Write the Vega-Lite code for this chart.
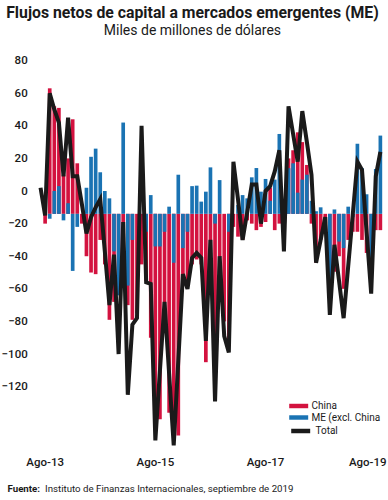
{
  "$schema": "https://vega.github.io/schema/vega-lite/v6.json",
  "autosize": {"type": "none"},
  "width": 343.5,
  "height": 388,
  "padding": {"left": 38.7, "top": 60.6, "right": 5.8, "bottom": 51.4},
  "background": "white",
  "config": {"view": {"stroke": null}},
  "title": {
    "text": "Flujos netos de capital a mercados emergentes (ME)",
    "subtitle": "Miles de millones de dólares",
    "anchor": "middle",
    "frame": "group",
    "dx": -18,
    "font": "Roboto",
    "fontSize": 15.8,
    "fontWeight": "bold",
    "color": "#1a1a1a",
    "subtitleFont": "Roboto",
    "subtitleFontSize": 14,
    "subtitleColor": "#1a1a1a",
    "subtitlePadding": 2,
    "offset": 16
  },
  "data": {
    "values": [
      {"mes": "2013-07", "china": -14, "me": -14, "total": 2},
      {"mes": "2013-08", "china": -20, "me": -14, "total": -15},
      {"mes": "2013-09", "china": 63, "me": -17, "total": 60},
      {"mes": "2013-10", "china": 52, "me": 0, "total": 50},
      {"mes": "2013-11", "china": 51, "me": 3, "total": 42},
      {"mes": "2013-12", "china": 10, "me": -18, "total": 9},
      {"mes": "2014-01", "china": 20, "me": -7.5, "total": 45},
      {"mes": "2014-02", "china": 44, "me": -49, "total": 9},
      {"mes": "2014-03", "china": 17, "me": -22, "total": 9},
      {"mes": "2014-04", "china": -20, "me": -14, "total": -8},
      {"mes": "2014-05", "china": -40, "me": 2, "total": -26},
      {"mes": "2014-06", "china": -50, "me": 21, "total": -16},
      {"mes": "2014-07", "china": -51, "me": 26, "total": -10},
      {"mes": "2014-08", "china": -30, "me": 11.5, "total": -5},
      {"mes": "2014-09", "china": -45, "me": 0, "total": -37},
      {"mes": "2014-10", "china": -79, "me": -4.5, "total": -70},
      {"mes": "2014-11", "china": -68, "me": -37, "total": -39},
      {"mes": "2014-12", "china": -60, "me": -64, "total": -100},
      {"mes": "2015-01", "china": -30, "me": 42, "total": -19},
      {"mes": "2015-02", "china": -70, "me": -58, "total": -125},
      {"mes": "2015-03", "china": -79, "me": -30, "total": -82},
      {"mes": "2015-04", "china": -75, "me": -14, "total": -78},
      {"mes": "2015-05", "china": -45, "me": -14, "total": 40},
      {"mes": "2015-06", "china": -55, "me": -25, "total": -56},
      {"mes": "2015-07", "china": -90, "me": -2.5, "total": -57},
      {"mes": "2015-08", "china": -136, "me": -34, "total": -153},
      {"mes": "2015-09", "china": -140, "me": -34, "total": -110},
      {"mes": "2015-10", "china": -75, "me": -25, "total": -68},
      {"mes": "2015-11", "china": -136, "me": -9.6, "total": -112},
      {"mes": "2015-12", "china": -148, "me": -44, "total": -156},
      {"mes": "2016-01", "china": -150, "me": 10, "total": -104},
      {"mes": "2016-02", "china": -55, "me": -35, "total": -51},
      {"mes": "2016-03", "china": -58, "me": -25, "total": -60},
      {"mes": "2016-04", "china": -45, "me": 3, "total": -41},
      {"mes": "2016-05", "china": -42, "me": 3.3, "total": -38},
      {"mes": "2016-06", "china": -45, "me": -6.5, "total": -41},
      {"mes": "2016-07", "china": -105, "me": -0.4, "total": -92},
      {"mes": "2016-08", "china": -40, "me": 14.5, "total": -30},
      {"mes": "2016-09", "china": -110, "me": -20, "total": -129},
      {"mes": "2016-10", "china": -50, "me": 6.7, "total": -40},
      {"mes": "2016-11", "china": -80, "me": -14, "total": -89},
      {"mes": "2016-12", "china": -95, "me": -25, "total": -99},
      {"mes": "2017-01", "china": -22, "me": -14, "total": 18},
      {"mes": "2017-02", "china": -28, "me": -8.6, "total": -5},
      {"mes": "2017-03", "china": -30, "me": -2.5, "total": -30},
      {"mes": "2017-04", "china": -18, "me": -4.5, "total": -13},
      {"mes": "2017-05", "china": -20, "me": 8.4, "total": 4},
      {"mes": "2017-06", "china": -24, "me": 14.1, "total": 4},
      {"mes": "2017-07", "china": -22, "me": -0.4, "total": -20},
      {"mes": "2017-08", "china": -19, "me": 7.4, "total": 0},
      {"mes": "2017-09", "china": 2, "me": -6, "total": 3},
      {"mes": "2017-10", "china": -24, "me": 7, "total": 12},
      {"mes": "2017-11", "china": -20, "me": 35, "total": 25},
      {"mes": "2017-12", "china": -30, "me": -12, "total": -37},
      {"mes": "2018-01", "china": 20, "me": 14, "total": 52},
      {"mes": "2018-02", "china": 25, "me": 17, "total": 35},
      {"mes": "2018-03", "china": 36, "me": -1, "total": 18},
      {"mes": "2018-04", "china": 30, "me": 7, "total": 49},
      {"mes": "2018-05", "china": 16, "me": 10, "total": 30},
      {"mes": "2018-06", "china": -20, "me": -6, "total": 10},
      {"mes": "2018-07", "china": -44, "me": -12.4, "total": -44},
      {"mes": "2018-08", "china": -30, "me": -10, "total": -30},
      {"mes": "2018-09", "china": -20, "me": -14, "total": -16},
      {"mes": "2018-10", "china": -60, "me": -70, "total": -76},
      {"mes": "2018-11", "china": -49.5, "me": -11.3, "total": -33},
      {"mes": "2018-12", "china": -40, "me": -31, "total": -55},
      {"mes": "2019-01", "china": -60, "me": -35, "total": -78},
      {"mes": "2019-02", "china": -30, "me": -9.6, "total": -46},
      {"mes": "2019-03", "china": -25, "me": -16, "total": -14},
      {"mes": "2019-04", "china": -25, "me": 29, "total": 18},
      {"mes": "2019-05", "china": -30, "me": 14, "total": 13},
      {"mes": "2019-06", "china": -38, "me": -2, "total": -25},
      {"mes": "2019-07", "china": -62, "me": -45, "total": -63},
      {"mes": "2019-08", "china": -24, "me": 13.5, "total": 9},
      {"mes": "2019-09", "china": -24, "me": 34, "total": 24}
    ]
  },
  "encoding": {
    "x": {
      "field": "mes",
      "type": "ordinal",
      "scale": {"paddingInner": 0.2, "paddingOuter": 0},
      "axis": {
        "values": ["2013-08", "2015-08", "2017-08", "2019-08"],
        "labelExpr": "'Ago-' + slice(datum.value, 2, 4)",
        "labelAngle": 0,
        "labelOverlap": false,
        "domain": false,
        "ticks": false,
        "tickSize": 0,
        "grid": false,
        "labelPadding": 8,
        "labelFont": "Roboto",
        "labelFontSize": 11.5,
        "labelFontWeight": 500,
        "labelColor": "#1a1a1a",
        "labelOffset": {"condition": {"test": "datum.value === '2019-08'", "value": -8}, "value": 0},
        "title": "Instituto de Finanzas Internacionales, septiembre de 2019",
        "titleX": 5.8,
        "titleY": 39.4,
        "titleAlign": "left",
        "titleAnchor": null,
        "titleBaseline": "middle",
        "titleFont": "Roboto",
        "titleFontSize": 9.7,
        "titleFontWeight": "normal",
        "titleColor": "#1a1a1a"
      }
    }
  },
  "layer": [
    {
      "mark": {"type": "bar"},
      "encoding": {
        "y": {
          "field": "china",
          "type": "quantitative",
          "title": "Fuente:",
          "scale": {"domain": [-158, 80], "nice": false, "zero": false},
          "axis": {
            "values": [80, 60, 40, 20, 0, -20, -40, -60, -80, -100, -120],
            "tickCount": 20,
            "labelOverlap": false,
            "grid": false,
            "domain": false,
            "ticks": false,
            "tickSize": 0,
            "labelPadding": 11.5,
            "labelFont": "Roboto",
            "labelFontSize": 11.5,
            "labelFontWeight": 500,
            "labelColor": "#1a1a1a",
            "titleAngle": 0,
            "titleX": -31.7,
            "titleY": 427.4,
            "titleAlign": "left",
            "titleBaseline": "middle",
            "titleFont": "Roboto",
            "titleFontSize": 9.7,
            "titleFontWeight": "bold",
            "titleColor": "#1a1a1a"
          }
        },
        "y2": {"datum": -14},
        "fill": {
          "datum": "China",
          "scale": {"domain": ["China", "ME (excl. China"], "range": ["#d3123f", "#1a73b3"]},
          "legend": {
            "orient": "none",
            "legendX": 255,
            "legendY": 340.4,
            "title": null,
            "symbolType": "M-2,-0.47H2V0.47H-2Z",
            "symbolSize": 90,
            "symbolStrokeWidth": 0,
            "labelFont": "Roboto",
            "labelFontSize": 10,
            "labelColor": "#1a1a1a",
            "labelOffset": 7.75,
            "rowPadding": 1.5,
            "padding": 0
          }
        }
      }
    },
    {
      "mark": {"type": "bar"},
      "encoding": {
        "y": {"field": "me", "type": "quantitative", "title": "Fuente:"},
        "y2": {"datum": -14},
        "fill": {"datum": "ME (excl. China"}
      }
    },
    {
      "mark": {"type": "line", "strokeWidth": 4},
      "encoding": {
        "y": {"field": "total", "type": "quantitative", "title": "Fuente:"},
        "stroke": {
          "datum": "Total",
          "scale": {"domain": ["Total"], "range": ["#1a1a1a"]},
          "legend": {
            "orient": "none",
            "legendX": 255,
            "legendY": 363.4,
            "title": null,
            "symbolType": "M-2,0H2",
            "symbolSize": 90,
            "symbolStrokeWidth": 4.5,
            "labelFont": "Roboto",
            "labelFontSize": 10,
            "labelColor": "#1a1a1a",
            "labelOffset": 7.75,
            "padding": 0
          }
        }
      }
    }
  ]
}
